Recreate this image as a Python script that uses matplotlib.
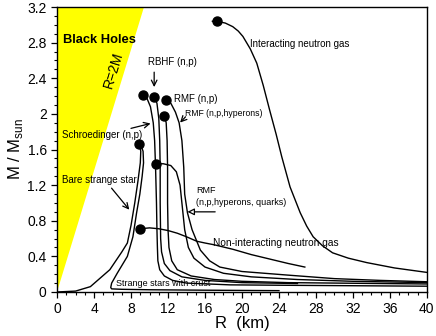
import numpy as np
import matplotlib
matplotlib.use("Agg")
import matplotlib.pyplot as plt

plt.rcParams['font.family'] = ['Liberation Sans', 'DejaVu Sans']
plt.rcParams['mathtext.fontset'] = 'custom'
plt.rcParams['mathtext.rm'] = 'Liberation Sans'

# ---------------------------------------------------------------
# Mass-radius curves (R in km, M in solar masses)
# ---------------------------------------------------------------

# Schwarzschild limit R = 2GM/c^2 -> R[km] = 2.95 * M
R_PER_MSUN = 2.95

interacting_R = [16.8, 17.3, 18.2, 19.0, 19.6, 20.1, 20.9, 21.6, 22.3, 23.0, 23.7,
                 24.3, 25.2, 26.3, 27.0, 27.7, 28.7, 29.8, 31.5, 33.5, 36.5, 40.0]
interacting_M = [3.04, 3.04, 3.02, 2.98, 2.93, 2.87, 2.73, 2.57, 2.32, 2.04, 1.77,
                 1.52, 1.18, 0.89, 0.74, 0.62, 0.52, 0.44, 0.38, 0.33, 0.27, 0.22]

noninteracting_R = [9.0, 10.0, 11.0, 12.0, 13.0, 14.0, 15.1, 16.0, 17.0, 19.0, 21.0,
                    23.0, 25.0, 26.8]
noninteracting_M = [0.71, 0.72, 0.71, 0.69, 0.66, 0.62, 0.57, 0.55, 0.53, 0.48, 0.42,
                    0.37, 0.32, 0.28]

schroedinger_R = [9.1, 9.3, 9.7, 10.1, 10.4, 10.55, 10.65, 10.75, 10.8, 10.85, 10.9,
                  11.1, 11.6, 12.5, 14.0, 18.7, 25.0, 40.0]
schroedinger_M = [2.20, 2.21, 2.18, 2.08, 1.90, 1.70, 1.40, 1.00, 0.70, 0.50, 0.35,
                  0.25, 0.18, 0.13, 0.10, 0.08, 0.075, 0.065]

rbhf_R = [10.2, 10.5, 10.8, 11.0, 11.1, 11.15, 11.15, 11.2, 11.3, 11.6, 12.2, 13.5,
          16.0, 20.0, 26.0]
rbhf_M = [2.17, 2.19, 2.12, 1.95, 1.70, 1.40, 1.00, 0.60, 0.45, 0.32, 0.24, 0.17,
          0.13, 0.105, 0.095]

rmf_hyp_R = [11.3, 11.6, 11.8, 11.9, 11.95, 11.95, 12.0, 12.1, 12.4, 13.0, 14.5,
             17.0, 20.0, 25.0, 30.0, 40.0]
rmf_hyp_M = [1.96, 1.98, 1.90, 1.70, 1.40, 1.00, 0.70, 0.50, 0.35, 0.25, 0.18,
             0.14, 0.12, 0.105, 0.10, 0.09]

rmf_quark_R = [10.4, 10.7, 11.5, 12.3, 12.9, 13.3, 13.5, 13.6, 13.8, 14.2, 14.8,
               16.0, 18.0, 21.0, 26.0, 32.0, 40.0]
rmf_quark_M = [1.42, 1.44, 1.44, 1.42, 1.35, 1.20, 1.00, 0.90, 0.70, 0.50, 0.38,
               0.28, 0.21, 0.17, 0.14, 0.12, 0.105]

rmf_np_R = [11.5, 11.8, 12.3, 12.8, 13.2, 13.5, 13.7, 13.8, 14.1, 14.6, 15.5, 16.5,
            17.6, 20.0, 24.9, 30.0, 35.0, 40.0]
rmf_np_M = [2.14, 2.16, 2.12, 2.02, 1.90, 1.70, 1.40, 1.10, 0.89, 0.70, 0.47, 0.35,
            0.28, 0.23, 0.19, 0.15, 0.13, 0.115]

bare_R = [0.0, 2.0, 3.6, 5.7, 7.0, 7.6, 8.0, 8.4, 8.75, 9.0, 9.05, 8.9]
bare_M = [0.0, 0.01, 0.06, 0.25, 0.45, 0.55, 0.75, 1.00, 1.25, 1.45, 1.58, 1.66]

crust_R = [24.0, 16.0, 10.0, 7.0, 5.9, 5.8, 5.9, 6.5, 7.6, 8.2, 8.6, 8.95, 9.2,
           9.35, 9.3, 9.1, 8.9]
crust_M = [0.015, 0.02, 0.025, 0.03, 0.035, 0.05, 0.10, 0.21, 0.40, 0.62, 0.89,
           1.10, 1.30, 1.45, 1.58, 1.64, 1.66]

# maximum-mass points
dots_R = [17.3, 9.0, 8.9, 9.3, 10.5, 11.8, 11.6, 10.7]
dots_M = [3.04, 0.71, 1.66, 2.21, 2.19, 2.16, 1.98, 1.44]

# ---------------------------------------------------------------
# Plot
# ---------------------------------------------------------------

fig = plt.figure(figsize=(4.36, 3.36), dpi=100)
ax = fig.add_axes([0.131, 0.131, 0.848, 0.848])

# black hole region
Mtop = 3.2
ax.fill([0, 0, R_PER_MSUN * Mtop], [0, Mtop, Mtop], color='#ffff00', lw=0, zorder=0)

curves = [(interacting_R, interacting_M), (noninteracting_R, noninteracting_M),
          (schroedinger_R, schroedinger_M), (rbhf_R, rbhf_M), (rmf_hyp_R, rmf_hyp_M),
          (rmf_quark_R, rmf_quark_M), (rmf_np_R, rmf_np_M), (bare_R, bare_M),
          (crust_R, crust_M)]
for R, M in curves:
    ax.plot(R, M, color='black', lw=1.0, solid_joinstyle='round')

ax.plot(dots_R, dots_M, 'o', color='black', ms=6.5, zorder=5)

# labels
ax.text(0.6, 2.83, "Black Holes", fontsize=9.3, fontweight='bold', va='center')
ax.text(6.05, 2.49, "R=2M", fontsize=10, rotation=73, ha='center', va='center')
ax.text(20.9, 2.78, "Interacting neutron gas", fontsize=7, va='center')
ax.text(9.8, 2.58, "RBHF (n,p)", fontsize=7, va='center')
ax.annotate("", xy=(10.5, 2.27), xytext=(10.5, 2.50),
            arrowprops=dict(arrowstyle='->', color='black', lw=0.9))
ax.text(12.6, 2.17, "RMF (n,p)", fontsize=7, va='center')
ax.text(13.8, 2.0, "RMF (n,p,hyperons)", fontsize=6.2, va='center')
ax.annotate("", xy=(13.1, 1.88), xytext=(14.1, 1.99),
            arrowprops=dict(arrowstyle='->', color='black', lw=0.9))
ax.text(0.55, 1.76, "Schroedinger (n,p)", fontsize=7, va='center')
ax.annotate("", xy=(10.4, 1.9), xytext=(7.7, 1.83),
            arrowprops=dict(arrowstyle='->', color='black', lw=0.9))
ax.text(0.55, 1.26, "Bare strange star", fontsize=7, va='center')
ax.annotate("", xy=(8.0, 0.9), xytext=(5.7, 1.19),
            arrowprops=dict(arrowstyle='->', color='black', lw=0.9))
ax.text(15.0, 1.14, "RMF", fontsize=6.5, va='center')
ax.text(15.0, 1.0, "(n,p,hyperons, quarks)", fontsize=6.5, va='center')
ax.annotate("", xy=(13.8, 0.9), xytext=(17.4, 0.9),
            arrowprops=dict(arrowstyle='-|>', color='black', lw=0.9, fc='white'))
ax.text(16.9, 0.55, "Non-interacting neutron gas", fontsize=7.3, va='center')
ax.text(6.4, 0.09, "Strange stars with crust", fontsize=6.5, va='center')

ax.set_xlim(0, 40)
ax.set_ylim(0, 3.2)
ax.set_xticks(np.arange(0, 41, 4))
ax.set_xticks(np.arange(0, 41, 1), minor=True)
ax.set_yticks([0, 0.4, 0.8, 1.2, 1.6, 2.0, 2.4, 2.8, 3.2])
ax.set_yticklabels(["0", "0.4", "0.8", "1.2", "1.6", "2", "2.4", "2.8", "3.2"])
ax.set_yticks(np.arange(0, 3.21, 0.1), minor=True)
ax.tick_params(which='major', direction='out', length=4, labelsize=10, width=0.9)
ax.tick_params(which='minor', direction='out', length=2.5, width=0.8)
for s in ax.spines.values():
    s.set_linewidth(1.0)

ax.set_xlabel("R  (km)", fontsize=12, labelpad=0)
ax.set_ylabel("M / M$_\\mathregular{sun}$", fontsize=12, labelpad=2)

fig.savefig("out.png", dpi=100)
